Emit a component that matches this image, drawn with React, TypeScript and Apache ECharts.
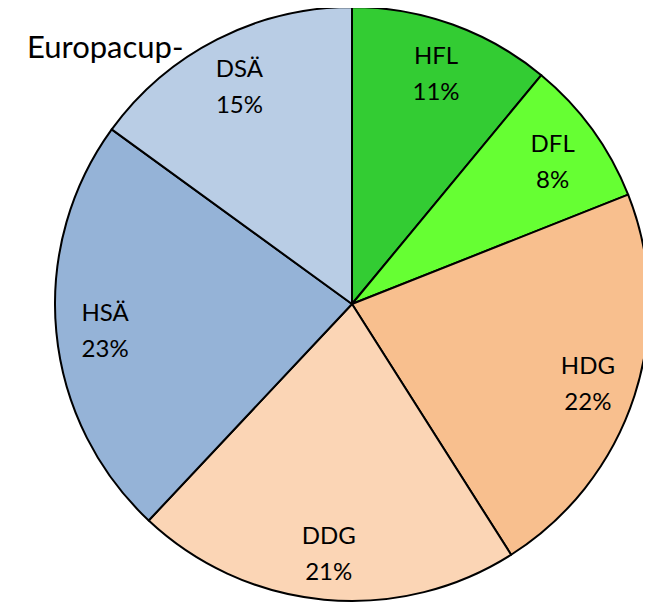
import React, { useEffect, useRef } from "react";
import * as echarts from "echarts";

const categories = ["HFL", "DFL", "HDG", "DDG", "HSÄ", "DSÄ"];
const values = [11, 8, 22, 21, 23, 15];
const colors = ["#33CC33", "#66FF33", "#F8BF8E", "#FBD5B5", "#95B3D7", "#B9CDE5"];
const title = "Europacup-";

export default function App() {
  const ref = useRef<HTMLDivElement>(null);
  useEffect(() => {
    if (!ref.current) return;
    const chart = echarts.init(ref.current, undefined, { renderer: "svg" });
    const data = categories.map((c, i) => ({ name: c, value: values[i], itemStyle: { color: colors[i] } }));
    const font = "Lato, 'Open Sans', sans-serif";
    chart.setOption({
      animation: false,
      title: {
        text: title,
        left: 14,
        top: 17,
        textStyle: { fontFamily: font, fontSize: 31, fontWeight: "normal", color: "#000" },
      },
      series: [
        {
          type: "pie",
          center: [344, 296],
          radius: [0, 297],
          startAngle: 90,
          clockwise: true,
          silent: true,
          label: { show: false },
          labelLine: { show: false },
          itemStyle: { borderColor: "#000", borderWidth: 2 },
          data,
        },
        {
          type: "pie",
          center: [344, 298],
          radius: [190, 300],
          startAngle: 90,
          clockwise: true,
          silent: true,
          labelLine: { show: false },
          itemStyle: { color: "transparent", borderWidth: 0 },
          label: {
            show: true,
            position: "inside",
            formatter: (p: any) => `${p.name}\n${p.value}%`,
            fontFamily: font,
            fontSize: 24,
            lineHeight: 36,
            color: "#000",
          },
          data: categories.map((c, i) => ({ name: c, value: values[i] })),
        },
      ],
    });
    return () => chart.dispose();
  }, []);
  return <div ref={ref} style={{ width: 643, height: 597 }} />;
}
